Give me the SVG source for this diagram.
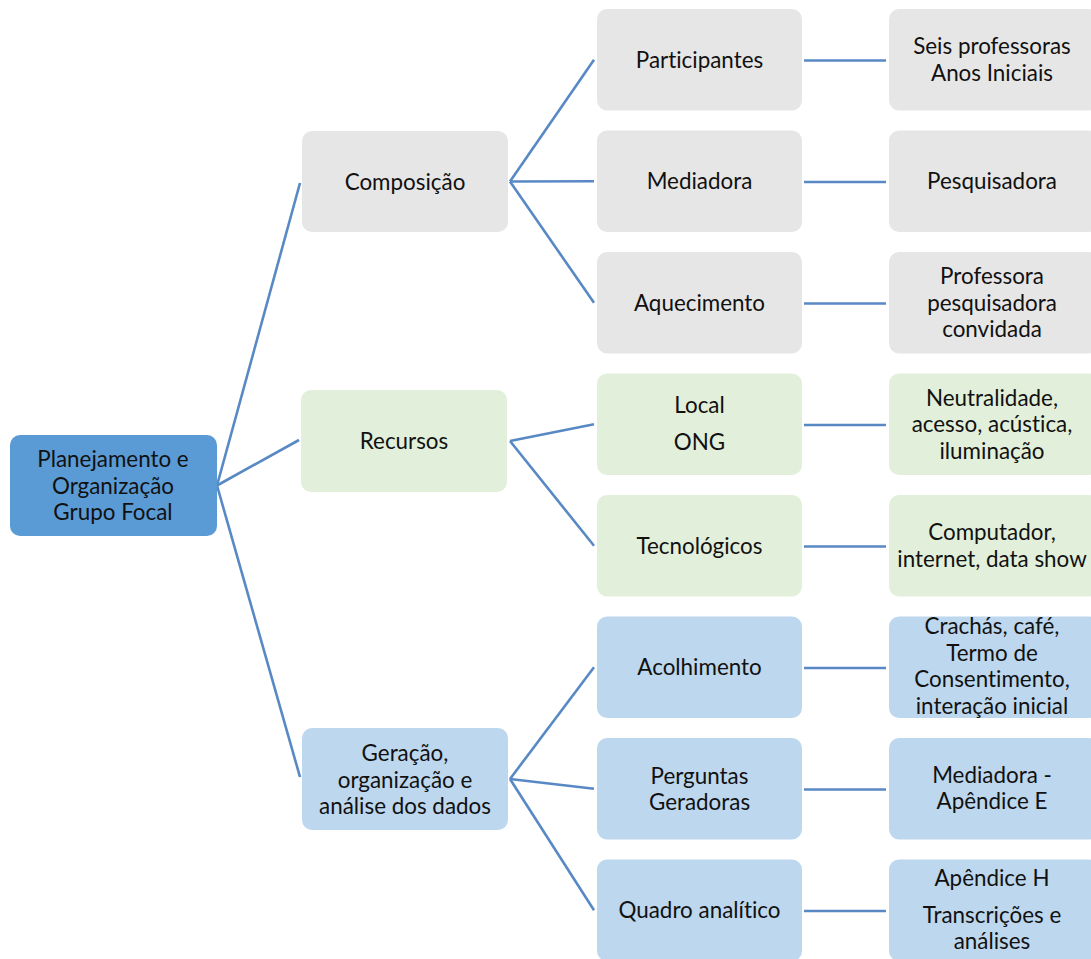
<svg xmlns="http://www.w3.org/2000/svg" width="1091" height="959" viewBox="0 0 1091 959">
<style>
text{font-family:Lato,"Liberation Sans",sans-serif;font-size:22.4px;fill:#111111;text-anchor:middle;font-variant-ligatures:none;font-feature-settings:"liga" 0}
.gray{fill:#e7e6e6}
.green{fill:#e2efda}
.blue{fill:#bdd7ee}
.root{fill:#5b9bd5}
#connectors line{stroke:#5889c4;stroke-width:2.6;stroke-linecap:butt}
</style>
<rect width="1091" height="959" fill="#ffffff"/>
<g id="connectors">
<line x1="217" y1="485.5" x2="300" y2="183"/>
<line x1="217" y1="485.5" x2="299" y2="440"/>
<line x1="217" y1="485.5" x2="300" y2="777"/>
<line x1="510" y1="181.5" x2="594" y2="59.75"/>
<line x1="510" y1="181.5" x2="594" y2="181.25"/>
<line x1="510" y1="181.5" x2="594" y2="302.75"/>
<line x1="510" y1="441" x2="594" y2="424.25"/>
<line x1="510" y1="441" x2="594" y2="545.75"/>
<line x1="510" y1="779" x2="594" y2="667.25"/>
<line x1="510" y1="779" x2="594" y2="788.75"/>
<line x1="510" y1="779" x2="594" y2="910.25"/>
<line x1="804" y1="60.5" x2="886" y2="60.5"/>
<line x1="804" y1="182" x2="886" y2="182"/>
<line x1="804" y1="303.5" x2="886" y2="303.5"/>
<line x1="804" y1="425" x2="886" y2="425"/>
<line x1="804" y1="546.5" x2="886" y2="546.5"/>
<line x1="804" y1="668" x2="886" y2="668"/>
<line x1="804" y1="789.5" x2="886" y2="789.5"/>
<line x1="804" y1="911" x2="886" y2="911"/>
</g>
<g id="root">
<rect class="root" x="10" y="435" width="207" height="101" rx="10"/>
<text x="113" y="467">Planejamento e</text>
<text x="113" y="493.5">Organização</text>
<text x="113" y="520">Grupo Focal</text>
</g>
<g id="composicao">
<rect class="gray" x="302" y="131" width="206" height="101" rx="10"/>
<text x="405" y="189.5">Composição</text>
</g>
<g id="recursos">
<rect class="green" x="301" y="390" width="206" height="102" rx="10"/>
<text x="404" y="449">Recursos</text>
</g>
<g id="geracao">
<rect class="blue" x="302" y="728" width="206" height="102" rx="10"/>
<text x="405" y="761">Geração,</text>
<text x="405" y="787.5">organização e</text>
<text x="405" y="814">análise dos dados</text>
</g>
<g id="participantes">
<rect class="gray" x="597" y="9" width="205" height="101.5" rx="10"/>
<text x="699.5" y="67.5">Participantes</text>
</g>
<g id="mediadora">
<rect class="gray" x="597" y="130.5" width="205" height="101.5" rx="10"/>
<text x="699.5" y="189">Mediadora</text>
</g>
<g id="aquecimento">
<rect class="gray" x="597" y="252" width="205" height="101.5" rx="10"/>
<text x="699.5" y="310.5">Aquecimento</text>
</g>
<g id="local">
<rect class="green" x="597" y="373.5" width="205" height="101.5" rx="10"/>
<text x="699.5" y="413">Local</text>
<text x="699.5" y="450">ONG</text>
</g>
<g id="tecnologicos">
<rect class="green" x="597" y="495" width="205" height="101.5" rx="10"/>
<text x="699.5" y="553.5">Tecnológicos</text>
</g>
<g id="acolhimento">
<rect class="blue" x="597" y="616.5" width="205" height="101.5" rx="10"/>
<text x="699.5" y="675">Acolhimento</text>
</g>
<g id="perguntas">
<rect class="blue" x="597" y="738" width="205" height="101.5" rx="10"/>
<text x="699.5" y="783.5">Perguntas</text>
<text x="699.5" y="810">Geradoras</text>
</g>
<g id="quadro">
<rect class="blue" x="597" y="859.5" width="205" height="101.5" rx="10"/>
<text x="699.5" y="918">Quadro analítico</text>
</g>
<g id="seis">
<rect class="gray" x="889" y="9" width="210" height="101.5" rx="10"/>
<text x="992" y="54">Seis professoras</text>
<text x="992" y="80.5">Anos Iniciais</text>
</g>
<g id="pesquisadora">
<rect class="gray" x="889" y="130.5" width="210" height="101.5" rx="10"/>
<text x="992" y="189">Pesquisadora</text>
</g>
<g id="professora">
<rect class="gray" x="889" y="252" width="210" height="101.5" rx="10"/>
<text x="992" y="284">Professora</text>
<text x="992" y="310.5">pesquisadora</text>
<text x="992" y="337">convidada</text>
</g>
<g id="neutralidade">
<rect class="green" x="889" y="373.5" width="210" height="101.5" rx="10"/>
<text x="992" y="405.5">Neutralidade,</text>
<text x="992" y="432">acesso, acústica,</text>
<text x="992" y="458.5">iluminação</text>
</g>
<g id="computador">
<rect class="green" x="889" y="495" width="210" height="101.5" rx="10"/>
<text x="992" y="540">Computador,</text>
<text x="992" y="566.5">internet, data show</text>
</g>
<g id="crachas">
<rect class="blue" x="889" y="616.5" width="210" height="101.5" rx="10"/>
<text x="992" y="634">Crachás, café,</text>
<text x="992" y="660.5">Termo de</text>
<text x="992" y="687">Consentimento,</text>
<text x="992" y="713.5">interação inicial</text>
</g>
<g id="mediadora-e">
<rect class="blue" x="889" y="738" width="210" height="101.5" rx="10"/>
<text x="992" y="782.5">Mediadora -</text>
<text x="992" y="809">Apêndice E</text>
</g>
<g id="apendice-h">
<rect class="blue" x="889" y="859.5" width="210" height="101.5" rx="10"/>
<text x="992" y="886">Apêndice H</text>
<text x="992" y="922.5">Transcrições e</text>
<text x="992" y="948.5">análises</text>
</g>
</svg>
